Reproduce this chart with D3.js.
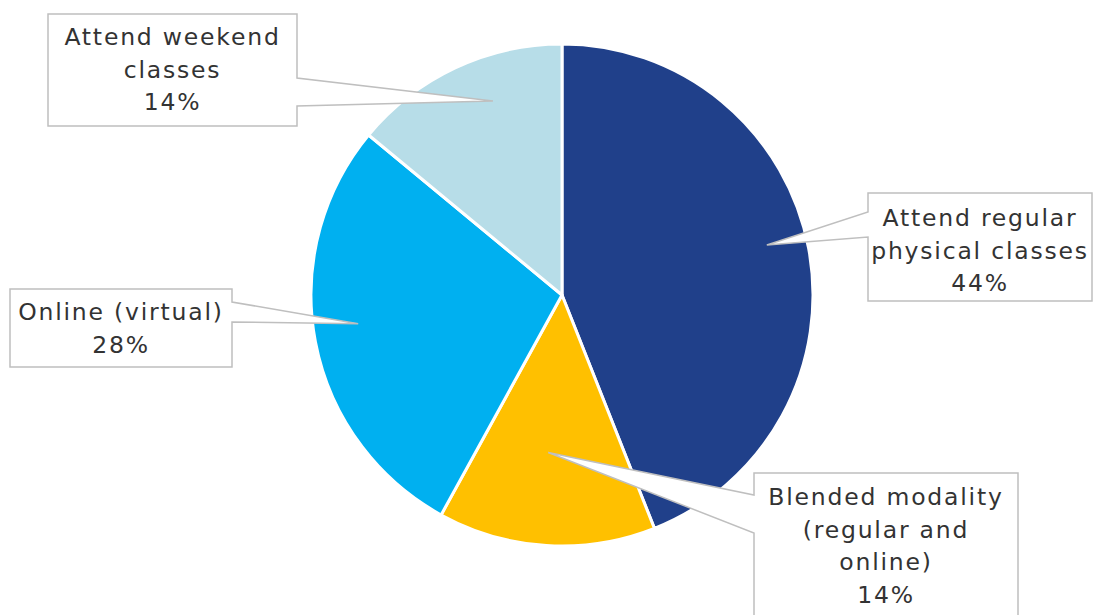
<!DOCTYPE html>
<html>
<head>
<meta charset="utf-8">
<script src="https://cdn.jsdelivr.net/npm/d3@7"></script>
<style>
  html, body { margin: 0; padding: 0; background: #ffffff; }
  svg { display: block; }
  .lbl { font-family: "DejaVu Sans", sans-serif; font-size: 23.5px; fill: #333333; letter-spacing: 1.8px; }
</style>
</head>
<body>
<svg id="chart" width="1094" height="615"></svg>
<script>
// ---- data ----
const categories = ["Attend regular physical classes", "Blended modality (regular and online)", "Online (virtual)", "Attend weekend classes"];
const values = [44, 14, 28, 14];
const labelLines = [
  ["Attend regular", "physical classes"],
  ["Blended modality", "(regular and", "online)"],
  ["Online (virtual)"],
  ["Attend weekend", "classes"]
];
const colors = ["#20408a", "#ffc000", "#00b0f0", "#b7dde8"];

// ---- layout (callout boxes) ----
const callouts = [
  { box: [868, 193, 1092, 301], side: "left",  anchor: [212, 237], tipAngleOffset: -2.9, tipRadius: 0.84, firstBaseline: 226 },
  { box: [754, 473, 1018, 640], side: "left",  anchor: [495, 533], tipAngleOffset: 1.4,  tipRadius: 0.63, firstBaseline: 505 },
  { box: [10, 289, 232, 367],   side: "right", anchor: [302, 322], tipAngleOffset: 2.8,  tipRadius: 0.82, firstBaseline: 320 },
  { box: [48, 14, 297, 126],    side: "right", anchor: [78, 106],  tipAngleOffset: 5.6,  tipRadius: 0.82, firstBaseline: 45 }
];
const lineHeight = 32.5;

const svg = d3.select("#chart");
const cx = 562, cy = 295, R = 251;

const pie = d3.pie().sort(null).value(d => d);
const arcs = pie(values);
const arc = d3.arc().innerRadius(0).outerRadius(R);

const g = svg.append("g").attr("transform", `translate(${cx},${cy})`);
g.selectAll("path.slice")
  .data(arcs)
  .enter().append("path")
  .attr("class", "slice")
  .attr("d", arc)
  .attr("fill", (d, i) => colors[i])
  .attr("stroke", "#ffffff")
  .attr("stroke-width", 3)
  .attr("stroke-linejoin", "round");

// callouts
arcs.forEach((a, i) => {
  const c = callouts[i];
  const mid = (a.startAngle + a.endAngle) / 2 + c.tipAngleOffset * Math.PI / 180;
  const tr = R * c.tipRadius;
  const tx = cx + tr * Math.sin(mid);
  const ty = cy - tr * Math.cos(mid);
  const [x0, y0, x1, y1] = c.box;
  let p;
  if (c.side === "right") {
    p = `M${x0},${y0}H${x1}V${c.anchor[0]}L${tx},${ty}L${x1},${c.anchor[1]}V${y1}H${x0}Z`;
  } else {
    p = `M${x0},${y0}H${x1}V${y1}H${x0}V${c.anchor[1]}L${tx},${ty}L${x0},${c.anchor[0]}Z`;
  }
  svg.append("path")
    .attr("d", p)
    .attr("fill", "#ffffff")
    .attr("stroke", "#bfbfbf")
    .attr("stroke-width", 1.5)
    .attr("stroke-linejoin", "miter");

  const lines = labelLines[i].concat([values[i] + "%"]);
  const textX = (x0 + x1) / 2;
  const t = svg.append("text").attr("class", "lbl").attr("text-anchor", "middle");
  lines.forEach((ln, k) => {
    t.append("tspan")
      .attr("x", textX)
      .attr("y", c.firstBaseline + k * lineHeight)
      .text(ln);
  });
});
</script>
</body>
</html>
